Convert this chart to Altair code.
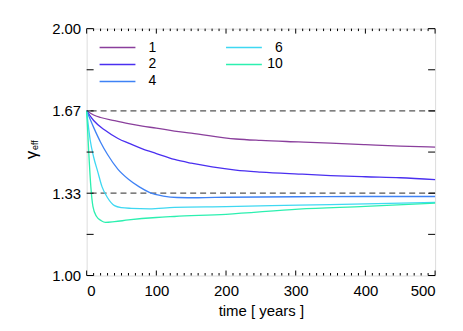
import altair as alt
import pandas as pd

# ---- data ----
series = ["1", "2", "4", "6", "10"]
colors = ["#8a3f9c", "#4a2ff0", "#3f82f5", "#3fd8f2", "#2cf0b0"]

t_1 = [0, 10, 20, 40, 60, 80, 100, 126, 150, 214, 250, 304, 350, 400, 450, 500]
g_1 = [1.667, 1.650, 1.640, 1.627, 1.615, 1.605, 1.597, 1.585, 1.577, 1.553, 1.547,
       1.541, 1.536, 1.530, 1.524, 1.520]

t_2 = [0, 10, 26, 45, 61, 80, 100, 126, 150, 180, 214, 250, 304, 350, 400, 450, 500]
g_2 = [1.667, 1.628, 1.589, 1.555, 1.535, 1.513, 1.494, 1.470, 1.455, 1.440, 1.427,
       1.419, 1.411, 1.405, 1.400, 1.396, 1.388]

t_4 = [0, 10, 20, 30, 45, 60, 75, 90, 110, 130, 160, 200, 300, 400, 500]
g_4 = [1.667, 1.600, 1.540, 1.490, 1.430, 1.390, 1.360, 1.337, 1.322, 1.316, 1.315,
       1.317, 1.319, 1.320, 1.320]

t_6 = [0, 5, 10, 16, 22, 30, 40, 50, 64, 90, 126, 200, 304, 400, 500]
g_6 = [1.667, 1.550, 1.480, 1.420, 1.360, 1.315, 1.283, 1.275, 1.272, 1.270, 1.276,
       1.279, 1.285, 1.290, 1.296]

t_10 = [0, 3, 6, 9, 14, 21, 27, 40, 60, 100, 126, 200, 304, 400, 500]
g_10 = [1.667, 1.500, 1.360, 1.280, 1.240, 1.222, 1.215, 1.218, 1.225, 1.235, 1.239,
        1.248, 1.269, 1.280, 1.293]

ref_levels = [5 / 3, 4 / 3]

x_major = [0, 100, 200, 300, 400, 500]
x_minor = [v for v in range(0, 501, 10) if v % 100 != 0]
y_ticks = [1 + i / 6 for i in range(7)]
y_labels = [1.0, 4 / 3, 5 / 3, 2.0]

# ---- build tables ----
rows = []
for name, ts, gs in zip(series, [t_1, t_2, t_4, t_6, t_10], [g_1, g_2, g_4, g_6, g_10]):
    for t, g in zip(ts, gs):
        rows.append({"series": name, "t": t, "gamma": g})
df = pd.DataFrame(rows)

W, H = 350, 248
FONT = "Liberation Sans"

xscale = alt.Scale(domain=[0, 500], nice=False)
yscale = alt.Scale(domain=[1, 2], nice=False, zero=False)
cscale = alt.Scale(domain=series, range=colors)

x_axis = alt.Axis(values=x_major, title="time [ years ]", ticks=False, domain=False,
                  grid=False, labelFontSize=15, titleFontSize=15, labelFont=FONT,
                  titleFont=FONT, titleFontWeight="normal", labelColor="black",
                  titleColor="black", labelPadding=8, titlePadding=5)
y_axis = alt.Axis(values=y_labels, format=".2f", title="", ticks=False, domain=False,
                  grid=False, labelFontSize=15, labelFont=FONT, labelColor="black",
                  labelPadding=6)

X = lambda f: alt.X(f, scale=xscale, axis=x_axis)
Y = lambda f: alt.Y(f, scale=yscale, axis=y_axis)

dashed = alt.Chart(pd.DataFrame({"gamma": ref_levels})).mark_rule(
    color="#555555", strokeDash=[6, 4], strokeWidth=1.3
).encode(y=Y("gamma:Q"))

lines = alt.Chart(df).mark_line(strokeWidth=1.3, interpolate="monotone").encode(
    x=X("t:Q"),
    y=Y("gamma:Q"),
    color=alt.Color("series:N", scale=cscale, legend=None),
    order=alt.Order("t:Q"),
)

# inward ticks
xmaj_df = pd.DataFrame({"t": x_major})
xmin_df = pd.DataFrame({"t": x_minor})
ytk_df = pd.DataFrame({"gamma": y_ticks})

def xt(dfx, y1, y2):
    return alt.Chart(dfx).mark_rule(color="black", strokeWidth=1).encode(
        x=X("t:Q"), y=alt.value(y1), y2=alt.value(y2))

def yt(x1, x2):
    return alt.Chart(ytk_df).mark_rule(color="black", strokeWidth=1).encode(
        y=Y("gamma:Q"), x=alt.value(x1), x2=alt.value(x2))

ticks = [
    xt(xmaj_df, H, H - 5), xt(xmin_df, H, H - 2.5),
    xt(xmaj_df, 0, 5), xt(xmin_df, 0, 2.5),
    yt(0, 7), yt(W - 7, W),
]

# legend (two columns, column-major)
leg_df = pd.DataFrame({"series": series, "slot": list(range(len(series)))})
leg_base = alt.Chart(leg_df).transform_calculate(
    lx="13 + 127 * floor(datum.slot / 3)",
    ly="19 + 17 * (datum.slot % 3)",
).transform_calculate(lx2="datum.lx + 36", tx="datum.lx + 57")

leg_lines = leg_base.mark_rule(strokeWidth=1.5).encode(
    x=alt.X("lx:Q", scale=None, axis=None),
    x2="lx2:Q",
    y=alt.Y("ly:Q", scale=None, axis=None),
    color=alt.Color("series:N", scale=cscale, legend=None),
)
leg_text = leg_base.mark_text(align="right", baseline="middle", fontSize=14,
                              font=FONT, color="black").encode(
    x=alt.X("tx:Q", scale=None, axis=None),
    y=alt.Y("ly:Q", scale=None, axis=None),
    text="series:N",
)

# y title: gamma with subscript "eff"
ytitle_main = alt.Chart(pd.DataFrame({"s": ["γ"]})).mark_text(
    angle=270, fontSize=17, font=FONT, color="black", align="center", baseline="middle"
).encode(text="s:N", x=alt.value(-55), y=alt.value(127))
ytitle_sub = alt.Chart(pd.DataFrame({"s": ["eff"]})).mark_text(
    angle=270, fontSize=9, font=FONT, color="black", align="center", baseline="middle"
).encode(text="s:N", x=alt.value(-52), y=alt.value(117))

chart = alt.layer(
    dashed, lines, *ticks, leg_lines, leg_text, ytitle_main, ytitle_sub
).properties(
    width=W, height=H,
    padding={"left": 79, "top": 20, "right": 20, "bottom": 50},
    autosize=alt.AutoSizeParams(type="none"),
).configure_view(stroke="black", strokeWidth=1.2).configure(background="white")

chart.save("out.html", embed_options={"renderer": "svg", "actions": False})
